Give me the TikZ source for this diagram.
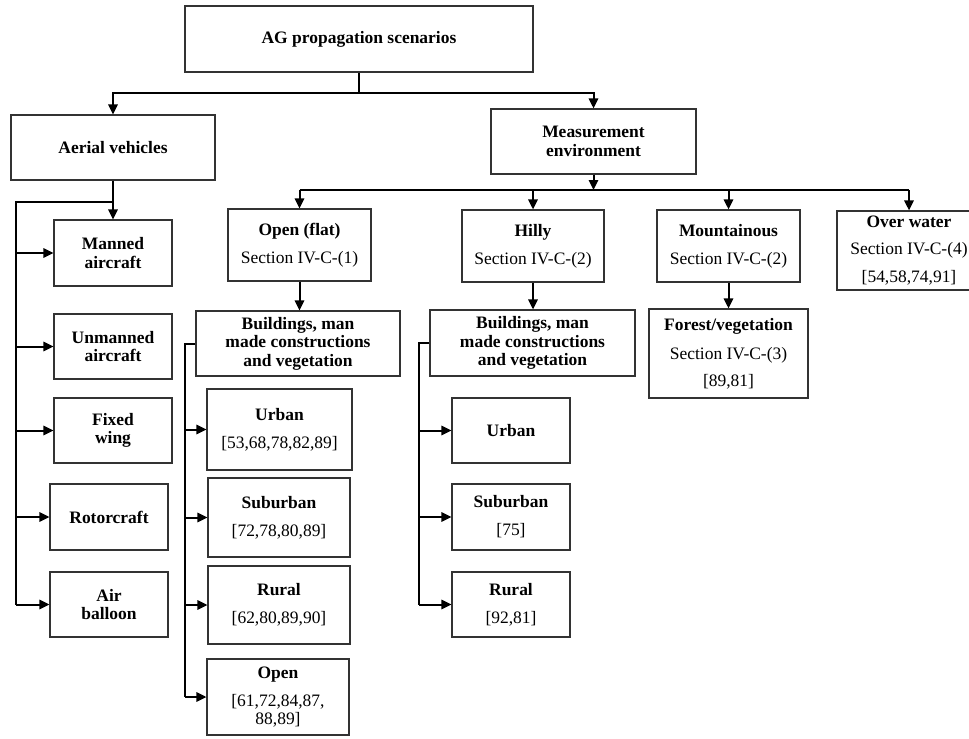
\documentclass[tikz,border=0pt]{standalone}
\usepackage{fontspec}
\setmainfont{Liberation Serif}
\usetikzlibrary{arrows.meta}
\newcommand{\diagfont}{\fontsize{13.1}{13.9}\selectfont}
\begin{document}
\begin{tikzpicture}[x=0.75pt,y=-0.75pt,
  box/.style={draw=black!80, line width=0.9pt, inner sep=0pt, align=center, font=\diagfont, text=black},
  bbox/.style={box, font=\diagfont\bfseries},
  wh/.style 2 args={minimum width=#1*0.75pt, minimum height=#2*0.75pt},
  conn/.style={line width=1.5pt, black},
  arr/.style={conn, -{Triangle[length=7.5pt,width=7pt]}}]
\useasboundingbox (0,0) rectangle (969,738);

% boxes
\node[bbox, wh={348}{66}] (top) at (359,39) {AG propagation scenarios};
\node[bbox, wh={204}{65}] (aerial) at (113,147.5) {Aerial vehicles};
\node[bbox, wh={205}{65}] (meas) at (593.5,141.5) {Measurement\\environment};

\node[bbox, wh={118}{66}] (manned) at (113,253) {Manned\\aircraft};
\node[bbox, wh={118}{65}] (unmanned) at (113,346.5) {Unmanned\\aircraft};
\node[bbox, wh={118}{65}] (fixed) at (113,430.5) {Fixed\\wing};
\node[bbox, wh={118}{66}] (rotor) at (109,517) {Rotorcraft};
\node[bbox, wh={118}{65}] (balloon) at (109,604.5) {Air\\balloon};

\node[box, wh={143}{72}] (openflat) at (299.5,245) {\textbf{Open (flat)}\\[7pt]Section IV-C-(1)};
\node[box, wh={142}{72}] (hilly) at (533,246) {\textbf{Hilly}\\[7pt]Section IV-C-(2)};
\node[box, wh={143}{72}] (mount) at (728.5,246) {\textbf{Mountainous}\\[7pt]Section IV-C-(2)};
\node[box, wh={144}{79}] (water) at (909,250.5) {\textbf{Over water}\\[7pt]Section IV-C-(4)\\[7pt]{[54,58,74,91]}};

\node[bbox, wh={204}{65}] (bld1) at (298,343.5) {Buildings, man\\made constructions\\and vegetation};
\node[bbox, wh={205}{66}] (bld2) at (532.5,343) {Buildings, man\\made constructions\\and vegetation};
\node[box, wh={159}{89}] (forest) at (728.5,353.5) {\textbf{Forest/vegetation}\\[8pt]Section IV-C-(3)\\[6pt]{[89,81]}};

\node[box, wh={145}{81}] (urban1) at (279.5,429.5) {\textbf{Urban}\\[7pt]{[53,68,78,82,89]}};
\node[box, wh={142}{79}] (sub1) at (279,517.5) {\textbf{Suburban}\\[7pt]{[72,78,80,89]}};
\node[box, wh={142}{78}] (rural1) at (279,605) {\textbf{Rural}\\[7pt]{[62,80,89,90]}};
\node[box, wh={142}{76}] (open1) at (278,697) {\textbf{Open}\\[7pt]{[61,72,84,87,}\\{88,89]}};

\node[bbox, wh={118}{65}] (urban2) at (511,430.5) {Urban};
\node[box, wh={118}{66}] (sub2) at (511,517) {\textbf{Suburban}\\[7pt]{[75]}};
\node[box, wh={118}{65}] (rural2) at (511,604.5) {\textbf{Rural}\\[7pt]{[92,81]}};

% connectors: top level
\coordinate (j1) at (359,93);
\draw[conn] (top.south) -- (j1);
\draw[arr] (j1) -| (aerial.north);
\draw[arr] (j1) -| (meas.north);

% measurement environment branches
\coordinate (h2L) at (299.5,190);
\coordinate (h2R) at (909,190);
\draw[arr] (meas.south) -- (meas.south |- h2L);
\draw[conn] (h2L) -- (h2R);
\draw[arr] (h2L) -- (openflat.north);
\draw[arr] (hilly.north |- h2L) -- (hilly.north);
\draw[arr] (mount.north |- h2L) -- (mount.north);
\draw[arr] (h2R) -- (water.north);

% aerial vehicles
\coordinate (a1) at (113,202);
\coordinate (a2) at (16,202);
\draw[arr] (aerial.south) -- (manned.north);
\draw[conn] (a1) -- (a2) -- (a2 |- balloon.west);
\draw[arr] (a2 |- manned.west) -- (manned.west);
\draw[arr] (a2 |- unmanned.west) -- (unmanned.west);
\draw[arr] (a2 |- fixed.west) -- (fixed.west);
\draw[arr] (a2 |- rotor.west) -- (rotor.west);
\draw[arr] (a2 |- balloon.west) -- (balloon.west);

% open (flat) column
\coordinate (b1) at (185,343.5);
\draw[arr] (openflat.south) -- (bld1.north -| openflat.south);
\draw[conn] (bld1.west) -- (b1) -- (b1 |- open1.west);
\draw[arr] (b1 |- urban1.west) -- (urban1.west);
\draw[arr] (b1 |- sub1.west) -- (sub1.west);
\draw[arr] (b1 |- rural1.west) -- (rural1.west);
\draw[arr] (b1 |- open1.west) -- (open1.west);

% hilly column
\coordinate (b2) at (419,343);
\draw[arr] (hilly.south) -- (bld2.north -| hilly.south);
\draw[conn] (bld2.west) -- (b2) -- (b2 |- rural2.west);
\draw[arr] (b2 |- urban2.west) -- (urban2.west);
\draw[arr] (b2 |- sub2.west) -- (sub2.west);
\draw[arr] (b2 |- rural2.west) -- (rural2.west);

% mountainous
\draw[arr] (mount.south) -- (forest.north);
\end{tikzpicture}
\end{document}
